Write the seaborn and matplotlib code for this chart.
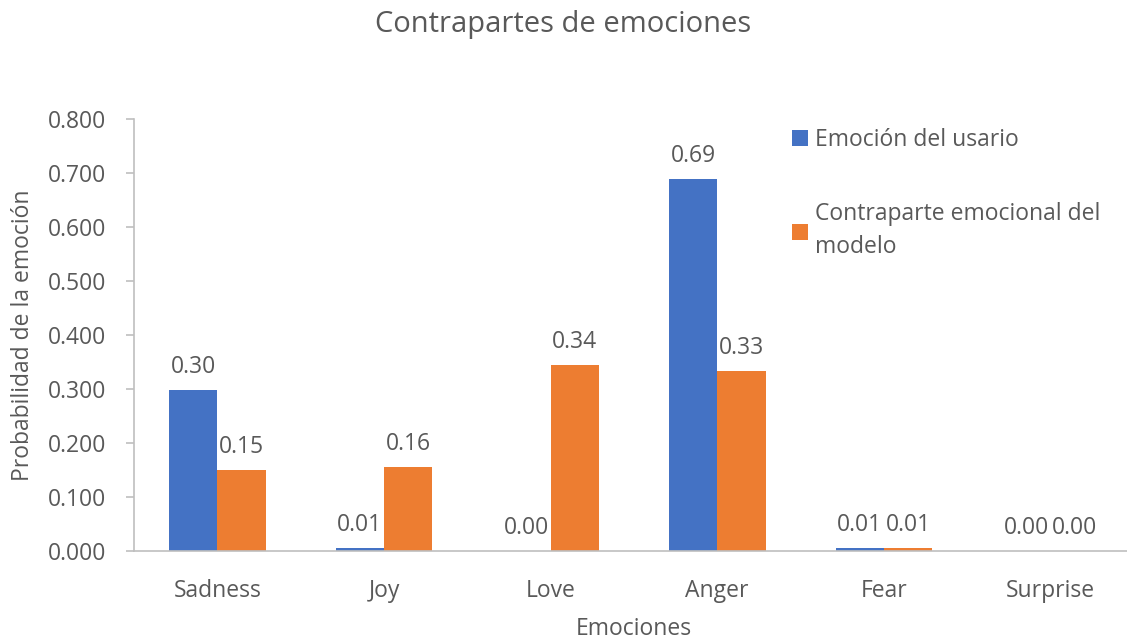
import matplotlib
matplotlib.use("Agg")
import matplotlib.pyplot as plt
import seaborn as sns
import pandas as pd
from matplotlib.ticker import FormatStrFormatter

categories = ["Sadness", "Joy", "Love", "Anger", "Fear", "Surprise"]
series_names = ["Emoción del usario", "Contraparte emocional del modelo"]
user_values = [0.298, 0.006, 0.0, 0.689, 0.006, 0.0]
model_values = [0.150, 0.156, 0.344, 0.333, 0.006, 0.0]
legend_labels = ["Emoción del usario", "Contraparte emocional del\nmodelo"]

df = pd.DataFrame({
    "Emociones": categories * 2,
    "Serie": [series_names[0]] * len(categories) + [series_names[1]] * len(categories),
    "Valor": user_values + model_values,
})

sns.set_theme(style="white")
plt.rcParams["font.family"] = ["Open Sans", "DejaVu Sans"]
text_color = "#595959"
axis_color = "#BFBFBF"
fs = 16.5

fig = plt.figure(figsize=(11.27, 6.42), dpi=100)
ax = fig.add_axes([0.119, 0.1417, 0.887, 0.6729])

sns.barplot(data=df, x="Emociones", y="Valor", hue="Serie",
            palette=["#4472C4", "#ED7D31"], saturation=1, width=0.58, gap=0,
            edgecolor="none", ax=ax, legend=True)

ax.set_ylim(0, 0.8)
ax.set_yticks([i / 10 for i in range(9)])
ax.yaxis.set_major_formatter(FormatStrFormatter("%.3f"))
for c in ax.containers:
    ax.bar_label(c, fmt="%.2f", padding=8, fontsize=fs, color=text_color)

for s in ["top", "right"]:
    ax.spines[s].set_visible(False)
ax.spines["left"].set_color(axis_color)
ax.spines["bottom"].set_color(axis_color)
ax.spines["left"].set_linewidth(1.2)
ax.spines["bottom"].set_linewidth(1.2)
ax.tick_params(axis="y", which="major", left=True, length=6, width=1.2,
               color=axis_color, labelsize=fs, labelcolor=text_color, pad=14)
ax.tick_params(axis="x", bottom=False, labelsize=fs, labelcolor=text_color, pad=14)

ax.set_xlabel("Emociones", fontsize=fs, color=text_color, labelpad=10)
ax.set_ylabel("Probabilidad de la emoción", fontsize=fs, color=text_color, labelpad=9)
fig.suptitle("Contrapartes de emociones", fontsize=21, color=text_color, y=0.985)

handles, _ = ax.get_legend_handles_labels()
leg = ax.legend(handles, legend_labels, loc="upper left", bbox_to_anchor=(0.695, 0.815),
                bbox_transform=fig.transFigure, frameon=False, fontsize=fs,
                labelcolor=text_color, handlelength=0.7, handleheight=0.7,
                handletextpad=0.3, labelspacing=2.2, borderaxespad=0)
for t in leg.get_texts():
    t.set_linespacing(1.5)

fig.savefig("out.png", dpi=100)
